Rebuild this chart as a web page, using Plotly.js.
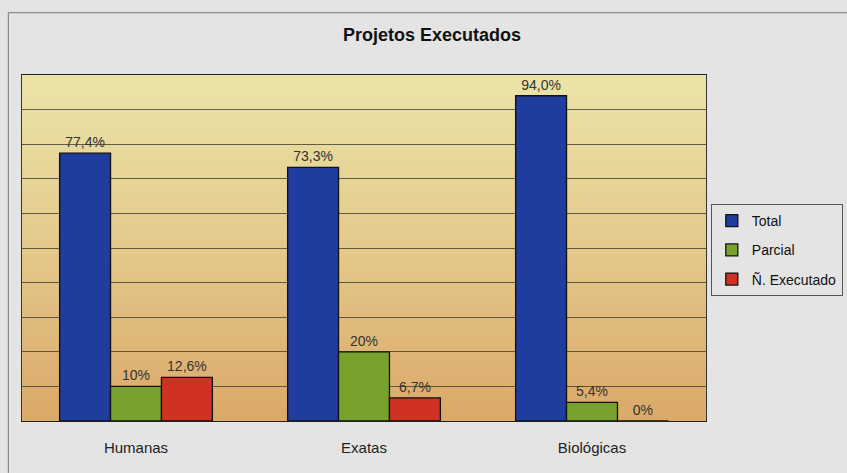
<!DOCTYPE html>
<html><head><meta charset="utf-8">
<script src="https://cdn.plot.ly/plotly-3.0.1.min.js"></script>
<style>body{margin:0;padding:0;background:#e4e4e4}</style>
</head><body><div id="chart" style="width:847px;height:473px"></div>
<script>
const categories = ["Humanas", "Exatas", "Biológicas"];
const seriesNames = ["Total", "Parcial", "Ñ. Executado"];
const totalValues = [77.4, 73.3, 94.0];
const parcialValues = [10, 20, 5.4];
const naoExecValues = [12.6, 6.7, 0];
const totalLabels = ["77,4%", "73,3%", "94,0%"];
const parcialLabels = ["10%", "20%", "5,4%"];
const naoExecLabels = ["12,6%", "6,7%", "0%"];
const colors = ["#1f3c9f", "#78a22b", "#cf3222"];

const labelFont = {family: "Liberation Sans Narrow, Liberation Sans, Arial", size: 14, color: "#333"};
function mk(name, vals, labels, color, i) {
  return {type: "bar", name: name, x: categories, y: vals, text: labels,
    textposition: "outside", textfont: labelFont, cliponaxis: false, legendgroup: "g" + i,
    marker: {color: color, line: {color: "#111", width: 1.3}}, hoverinfo: "skip"};
}
const data = [
  mk(seriesNames[0], totalValues, totalLabels, colors[0], 0),
  mk(seriesNames[1], parcialValues, parcialLabels, colors[1], 1),
  mk(seriesNames[2], naoExecValues, naoExecLabels, colors[2], 2)
];

const grad = 'data:image/svg+xml;utf8,' + encodeURIComponent(
  '<svg xmlns="http://www.w3.org/2000/svg" width="100" height="100" preserveAspectRatio="none">' +
  '<defs><linearGradient id="g" x1="0" y1="0" x2="0" y2="1">' +
  '<stop offset="0" stop-color="#ebe4a8"/><stop offset="0.5" stop-color="#e4c98b"/>' +
  '<stop offset="1" stop-color="#daa968"/></linearGradient></defs>' +
  '<rect width="100" height="100" fill="url(#g)"/></svg>');

const layout = {
  width: 847, height: 473,
  paper_bgcolor: "#e4e4e4", plot_bgcolor: "rgba(0,0,0,0)",
  margin: {l: 22, r: 141, t: 75, b: 52, autoexpand: false},
  title: {text: "<b>Projetos Executados</b>", x: 0.51, xanchor: "center", xref: "container", y: 0.926, yanchor: "middle",
    font: {family: "Liberation Sans, Arial", size: 18, color: "#111"}},
  barmode: "group", bargap: 0.33, bargroupgap: 0,
  xaxis: {showline: true, linecolor: "#222", linewidth: 1, mirror: true, ticks: "",
    tickfont: {family: "Liberation Sans, Arial", size: 15, color: "#222"}, ticklabelstandoff: 13},
  yaxis: {range: [0, 100], dtick: 10, showticklabels: false, showgrid: true, gridcolor: "#3f3f30", gridwidth: 0.8,
    zeroline: false, showline: true, linecolor: "#333", linewidth: 1, mirror: true, ticks: ""},
  legend: {x: 1.2, xanchor: "right", y: 0.494, yanchor: "middle", bgcolor: "#e4e4e4",
    bordercolor: "#555", borderwidth: 1, font: {family: "Liberation Sans, Arial", size: 14, color: "#111"},
    traceorder: "grouped", tracegroupgap: 8, itemwidth: 30},
  images: [{source: grad, xref: "paper", yref: "paper", x: 0, y: 1, sizex: 1, sizey: 1,
    sizing: "stretch", layer: "below", xanchor: "left", yanchor: "top"}],
  shapes: [
    {type: "line", xref: "paper", yref: "paper", x0: -0.02, x1: 1.3, y0: 1.18, y1: 1.18, line: {color: "#777", width: 1}},
    {type: "line", xref: "paper", yref: "paper", x0: -0.02, x1: -0.02, y0: 1.18, y1: -0.15, line: {color: "#777", width: 1}}
  ]
};
Plotly.newPlot("chart", data, layout, {displayModeBar: false, staticPlot: true});
</script></body></html>
